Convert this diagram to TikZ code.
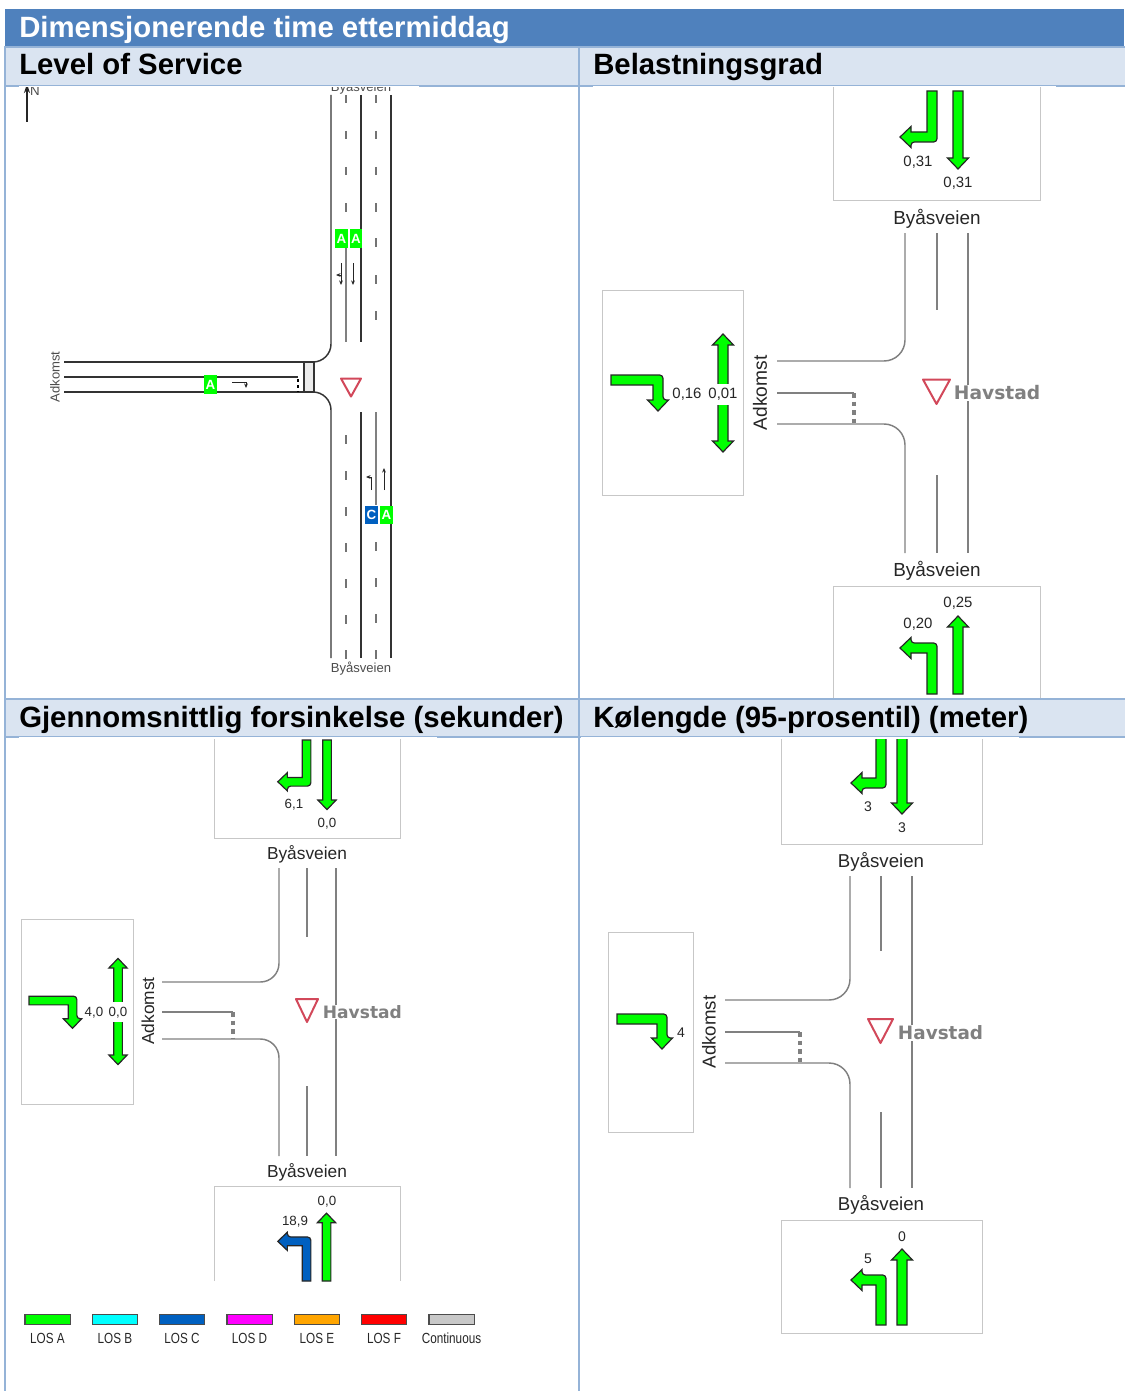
\documentclass[tikz,border=0pt]{standalone}
\usepackage{fontspec}
\setmainfont{Liberation Sans}
\newfontfamily\havfont{DejaVu Sans}
\usepackage{tikz}
\usetikzlibrary{arrows.meta}

\definecolor{hdrblue}{HTML}{4F81BD}
\definecolor{subblue}{HTML}{DAE4F1}
\definecolor{edgeblue}{HTML}{95B3D7}
\definecolor{losA}{HTML}{00FF00}
\definecolor{losB}{HTML}{00FFFF}
\definecolor{losC}{HTML}{0060C0}
\definecolor{losD}{HTML}{FF00FF}
\definecolor{losE}{HTML}{FFA500}
\definecolor{losF}{HTML}{FF0000}
\definecolor{losG}{HTML}{C8C8C8}
\definecolor{yieldred}{HTML}{D2485A}

% turning arrow: transform, length, reach, colour
\newcommand{\turnarr}[4]{
    \filldraw[laneshape, fill=#4, #1] (5,0) [rounded corners=2.5pt] -- (5,-#2) -- (-#3+11,-#2)
        [sharp corners] -- (-#3+11,-#2-5.5) -- (-#3,-#2+5) -- (-#3+11,-#2+15.5)
        -- (-#3+11,-#2+10) -- (-5,-#2+10) -- (-5,0) -- cycle;
}
% straight arrow: transform, length, colour
\newcommand{\thruarr}[3]{
    \filldraw[laneshape, fill=#3, #1] (5,0) -- (5,-#2+11) -- (10.5,-#2+11) -- (0,-#2)
        -- (-10.5,-#2+11) -- (-5,-#2+11) -- (-5,0) -- cycle;
}

\begin{document}
\begin{tikzpicture}[
        x=0.75pt, y=-0.75pt,
        >={Stealth[length=1.2mm,width=1mm]},
        txt/.style ={font=\fontsize{#1}{#1}\selectfont, text=black!85, inner sep=0pt, yshift=-1.1pt},
        rot/.style ={rotate=90, xshift=1.1pt},
        val/.style ={txt=#1, fill=white, inner xsep=0.6pt, inner ysep=1pt},
        hav/.style ={font=\havfont\bfseries\fontsize{#1}{#1}\selectfont, text=black!50,
                     fill=white, inner sep=0.5pt},
        tag/.style ={fill=#1, text=white, font=\bfseries\fontsize{10}{10}\selectfont,
                     inner sep=0pt, minimum width=9.6pt, minimum height=14pt},
        laneshape/.style ={draw=black!85, line width=0.9pt},
        panelbox/.style  ={draw=black!22, line width=0.7pt},
        road/.style  ={draw=black!50, line width=1.1pt},
        stopline/.style  ={draw=black!50, line width=3pt, dash pattern=on 3.6pt off 2.8pt},
        plan/.style  ={draw=black!80, line width=1.1pt},
        lanedash/.style ={draw=black!55, line width=0.8pt},
        yield/.style ={draw=yieldred, fill=white, line width=1.5pt, line join=round},
        small/.style ={->, draw=black!85, line width=0.75pt},
        hdr/.style ={anchor=base west, inner sep=0pt, font=\bfseries\fontsize{22}{22}\selectfont},
    ]
    \useasboundingbox (0,0) rectangle (1124,1391);

    % ===================== Level of Service =====================
    \node[txt=9.8, text=black!70] (p1top) at (361,86) {Byåsveien};
    \node[txt=9.8, text=black!70] (p1bot) at (361,667) {Byåsveien};
    \node[txt=9.8, text=black!70, rot] (p1adk) at (55,377) {Adkomst};
    \node[txt=10, text=black!70] (p1n) at (35,89) {N};
    \draw[-{Stealth[length=2.4mm,width=1.6mm]}, line width=1.1pt, draw=black!85] (27,122) -- (27,84);

    \filldraw[plan, fill=black!8] (304,362) rectangle (314,392);
    \draw[plan, rounded corners=13.5pt] (331,95) -- (331,362) -- (304,362);
    \draw[plan, rounded corners=13.5pt] (331,658) -- (331,392) -- (304,392);
    \draw[plan] (64,362) -- (304,362);
    \draw[plan] (64,392) -- (304,392);
    \draw[plan] (64,377) -- (298,377);
    \draw[draw=black, line width=1.8pt, dash pattern=on 2.3pt off 2.3pt] (298,379) -- (298,392);
    \draw[plan] (361,95) -- (361,342);
    \draw[plan] (361,412) -- (361,658);
    \draw[plan] (391,95) -- (391,658);
    \draw[road] (346,248) -- (346,342);
    \draw[road] (376,412) -- (376,505);
    \foreach \y in {95,131,167,203,435,471,507,543,579,615,650}{
        \draw[lanedash] (346,\y) -- ++(0,8.5);
    }
    \foreach \y in {95,131,167,203,238,275,311,542,578,614,650}{
        \draw[lanedash] (376,\y) -- ++(0,8.5);
    }
    \filldraw[yield] (341,378.5) -- (361,378.5) -- (351,396.5) -- cycle;

    \node[tag=losA] (p1a) at (341.5,238.5) {A};
    \node[tag=losA] (p1b) at (356,238.5) {A};
    \node[tag=losC] (p1c) at (371.5,515) {C};
    \node[tag=losA] (p1d) at (386.5,515) {A};
    \node[tag=losA] (p1e) at (210.5,384.5) {A};

    \draw[small] (341,263) -- (341,285);
    \draw[small] (341,275) -- (336,275);
    \draw[small] (353,263) -- (353,285);
    \draw[small] (371,490) -- (371,477) -- (366,477);
    \draw[small] (384,490) -- (384,468);
    \draw[small] (232,382) -- (246,382) -- (246,388);

    % ===================== Belastningsgrad =====================
    \draw[panelbox] (833,80) -- (833,200) -- (1040,200) -- (1040,80);
    \turnarr{shift={(932,91)}, yscale=-1}{51}{32}{losA}
    \thruarr{shift={(958,91)}, yscale=-1}{78}{losA}
    \node[val=11.2] (p2v1) at (918,161) {0,31};
    \node[val=11.2] (p2v2) at (958,182) {0,31};
    \node[txt=14.2] (p2n) at (937,217) {Byåsveien};

    \draw[panelbox] (833,705) -- (833,586) -- (1040,586) -- (1040,705);
    \turnarr{shift={(932,694)}}{51}{32}{losA}
    \thruarr{shift={(958,694)}}{78}{losA}
    \node[val=11.2] (p2v3) at (958,602) {0,25};
    \node[val=11.2] (p2v4) at (918,623) {0,20};
    \node[txt=14.2] (p2s) at (937,569) {Byåsveien};

    \draw[panelbox] (602,290) rectangle (743,495);
    \turnarr{shift={(611,380)}, cm={0,1,1,0,(0,0)}}{52}{31}{losA}
    \thruarr{shift={(723,393)}}{59}{losA}
    \thruarr{shift={(723,393)}, yscale=-1}{59}{losA}
    \node[val=11.2] (p2v5) at (687,393) {0,16};
    \node[val=11.2, minimum height=15.5pt] (p2v6) at (723,393) {0,01};
    \node[txt=14.4, rot] (p2w) at (760,393) {Adkomst};

    \draw[road, rounded corners=15.75pt] (905,233) -- (905,361) -- (777,361);
    \draw[road, rounded corners=15.75pt] (905,553) -- (905,424) -- (777,424);
    \draw[road] (777,393) -- (854,393);
    \draw[stopline] (854,393) -- (854,424);
    \draw[road] (937,233) -- (937,310);
    \draw[road] (937,475) -- (937,553);
    \draw[road] (968,233) -- (968,553);
    \filldraw[yield] (923,379.5) -- (950,379.5) -- (936.5,404) -- cycle;
    \node[hav=14, anchor=west] (p2h) at (953,393) {Havstad};

    % ===================== Gjennomsnittlig forsinkelse =====================
    \draw[panelbox] (214,732) -- (214,838) -- (400,838) -- (400,732);
    \turnarr{shift={(306.5,740)}, yscale=-1, scale=0.87}{53}{33}{losA}
    \thruarr{shift={(327,740)}, yscale=-1, scale=0.87}{80}{losA}
    \node[val=10] (p3v1) at (294,803) {6,1};
    \node[val=10] (p3v2) at (327,822) {0,0};
    \node[txt=13] (p3n) at (307,853) {Byåsveien};

    \draw[panelbox] (214,1281) -- (214,1186) -- (400,1186) -- (400,1281);
    \turnarr{shift={(306.5,1281)}, scale=0.87}{50.6}{33}{losC}
    \thruarr{shift={(326.5,1281)}, scale=0.87}{78}{losA}
    \node[val=10] (p3v3) at (327,1200) {0,0};
    \node[val=10] (p3v4) at (295,1220) {18,9};
    \node[txt=13] (p3s) at (307,1171) {Byåsveien};

    \draw[panelbox] (21,919) rectangle (133,1104);
    \turnarr{shift={(29,1000.5)}, cm={0,1,1,0,(0,0)}, scale=0.87}{55}{32}{losA}
    \thruarr{shift={(118,1011.5)}, scale=0.87}{61}{losA}
    \thruarr{shift={(118,1011.5)}, yscale=-1, scale=0.87}{61}{losA}
    \node[val=10] (p3v5) at (94,1011) {4,0};
    \node[val=10, minimum height=15pt] (p3v6) at (118,1011) {0,0};
    \node[txt=13, rot] (p3w) at (148,1011) {Adkomst};

    \draw[road, rounded corners=14pt] (279,868) -- (279,982) -- (162,982);
    \draw[road, rounded corners=14pt] (279,1156) -- (279,1039) -- (162,1039);
    \draw[road] (162,1012) -- (233,1012);
    \draw[stopline] (233,1012) -- (233,1039);
    \draw[road] (307,868) -- (307,937);
    \draw[road] (307,1086) -- (307,1156);
    \draw[road] (336,868) -- (336,1156);
    \filldraw[yield] (296,999) -- (318,999) -- (307,1022) -- cycle;
    \node[hav=12.8, anchor=west] (p3h) at (322,1012) {Havstad};

    % ===================== Legend =====================
    \foreach \n/\x/\c/\t in {a/47.5/losA/LOS A,b/115/losB/LOS B,c/182/losC/LOS C,d/249.5/losD/LOS D,
            e/317/losE/LOS E,f/384/losF/LOS F,g/451.5/losG/Continuous}{
        \node[draw=black!70, line width=1pt, fill=\c, minimum width=34pt, minimum height=7.5pt,
              inner sep=0pt] (key\n) at (\x,1319.5) {};
        \node[txt=11, xscale=0.8] (lbl\n) at (\x,1336.5) {\t};
    }

    % ===================== Kolengde =====================
    \draw[panelbox] (781,732) -- (781,844) -- (982,844) -- (982,732);
    \turnarr{shift={(881,738)}, yscale=-1}{50}{30}{losA}
    \thruarr{shift={(902,738)}, yscale=-1}{76}{losA}
    \node[val=10.5] (p4v1) at (868,805) {3};
    \node[val=10.5] (p4v2) at (902,826) {3};
    \node[txt=14] (p4n) at (881,860) {Byåsveien};

    \draw[panelbox] (781,1220) rectangle (982,1333.5);
    \turnarr{shift={(881,1325)}}{50}{30}{losA}
    \thruarr{shift={(902,1325)}}{76}{losA}
    \node[val=10.5] (p4v3) at (902,1235) {0};
    \node[val=10.5] (p4v4) at (868,1257) {5};
    \node[txt=14] (p4s) at (881,1203) {Byåsveien};

    \draw[panelbox] (608,932) rectangle (693,1132);
    \turnarr{shift={(617,1019)}, cm={0,1,1,0,(0,0)}}{50}{30}{losA}
    \node[val=10.5] (p4v5) at (681,1031) {4};
    \node[txt=14, rot] (p4w) at (709,1032) {Adkomst};

    \draw[road, rounded corners=15.75pt] (850,876) -- (850,1000) -- (725,1000);
    \draw[road, rounded corners=15.75pt] (850,1188) -- (850,1063) -- (725,1063);
    \draw[road] (725,1032) -- (800,1032);
    \draw[stopline] (800,1032) -- (800,1063);
    \draw[road] (881,876) -- (881,951);
    \draw[road] (881,1112) -- (881,1188);
    \draw[road] (912,876) -- (912,1188);
    \filldraw[yield] (868,1019) -- (893,1019) -- (880.5,1043) -- cycle;
    \node[hav=13.8, anchor=west] (p4h) at (897,1033) {Havstad};

    % ===================== Table =====================
    \fill[hdrblue] (5,9) rectangle (1124,47);
    \node[hdr, text=white] (title) at (19,38) {Dimensjonerende time ettermiddag};
    \filldraw[fill=subblue, draw=edgeblue, line width=1pt] (5,47) rectangle (1130,86);
    \filldraw[fill=subblue, draw=edgeblue, line width=1pt] (5,699) rectangle (1130,737);
    \draw[edgeblue, line width=1.2pt] (5,47) -- (5,1391);
    \draw[edgeblue, line width=1.2pt] (579,47) -- (579,1391);
    \node[hdr] (loslbl) at (19,74.5) {Level of Service};
    \node[hdr] (belastlbl) at (593,74.5) {Belastningsgrad};
    \node[hdr] (delaylbl) at (19,727.5) {Gjennomsnittlig forsinkelse (sekunder)};
    \node[hdr] (kolbl) at (593,727.5) {Kølengde (95-prosentil) (meter)};
    % pictures sit over the lower rule of each header
    \fill[white] (19,86.2) rectangle (419,87.5);
    \fill[white] (593,86.2) rectangle (1056,87.5);
    \fill[white] (19,737.2) rectangle (437,738.5);
    \fill[white] (581,737.2) rectangle (1019,738.5);
\end{tikzpicture}
\end{document}
